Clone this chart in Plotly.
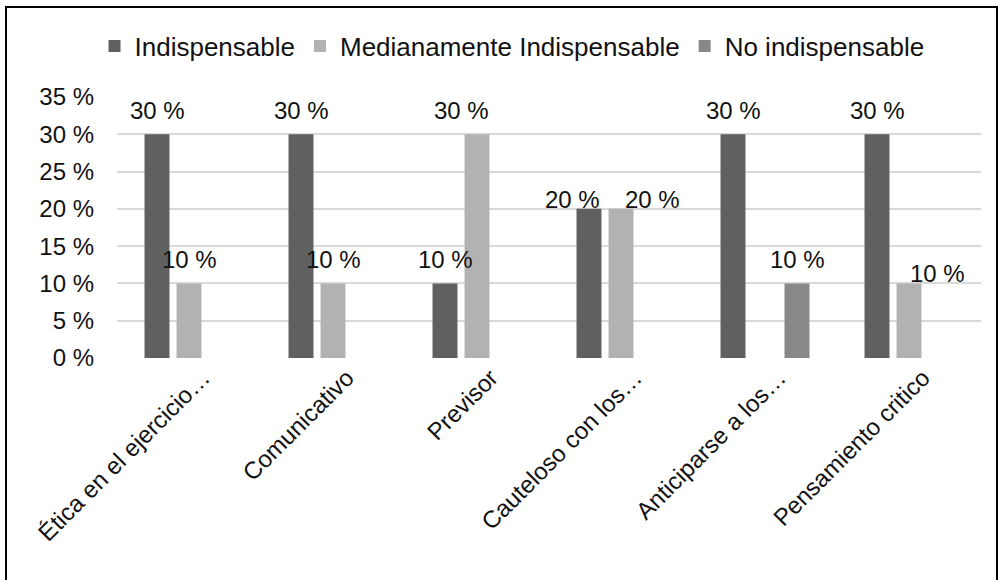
import plotly.graph_objects as go

# categories and series (percent)
categories = [
    "Ética en el ejercicio…",
    "Comunicativo",
    "Previsor",
    "Cauteloso con los…",
    "Anticiparse a los…",
    "Pensamiento critico",
]
series_names = ["Indispensable", "Medianamente Indispensable", "No indispensable"]
indispensable = [30, 30, 10, 20, 30, 30]
medianamente = [10, 10, 30, 20, None, 10]
no_indispensable = [None, None, None, None, 10, None]

y_ticks = [0, 5, 10, 15, 20, 25, 30, 35]

colors = ["#606060", "#b2b2b2", "#888888"]
FONT = "Arial, Liberation Sans, sans-serif"
TEXT = "#111111"

# layout geometry (pixels)
W, H = 998, 580
ML, MR, MT, MB = 117, 17, 97, 222
BARGAP = 1 / 3
BARGROUPGAP = 0.22

# excel moved a few labels by hand (pixels: dx, dy)
label_nudge = {
    ("Medianamente Indispensable", "Previsor"): (-16, 0),
    ("Indispensable", "Cauteloso con los…"): (-17, -15),
    ("Medianamente Indispensable", "Cauteloso con los…"): (31, -15),
    ("Medianamente Indispensable", "Pensamiento critico"): (28, -14),
}

all_values = [indispensable, medianamente, no_indispensable]

fig = go.Figure()
for name, vals, col in zip(series_names, all_values, colors):
    fig.add_trace(go.Bar(
        x=categories,
        y=vals,
        name=name,
        marker=dict(color=col, line=dict(width=0)),
        hoverinfo="skip",
    ))

# data labels above the bars
slot = (1 - BARGAP) / len(series_names)
annotations = []
for k, (name, vals) in enumerate(zip(series_names, all_values)):
    offset = (k - (len(series_names) - 1) / 2) * slot
    for i, (cat, v) in enumerate(zip(categories, vals)):
        if v is None:
            continue
        dx, dy = label_nudge.get((name, cat), (0, 0))
        annotations.append(dict(
            x=i + offset, y=v, xref="x", yref="y",
            text=f"{v:.0f} %", showarrow=False,
            xanchor="center", yanchor="middle",
            xshift=dx, yshift=24 + dy,
            font=dict(family=FONT, size=24, color=TEXT),
        ))

pw = W - ML - MR
ph = H - MT - MB


def px_x(px):
    return (px - ML) / pw


def px_y(py):
    return (H - MB - py) / ph


fig.update_layout(
    width=W, height=H,
    margin=dict(l=ML, r=MR, t=MT, b=MB),
    paper_bgcolor="white", plot_bgcolor="white",
    font=dict(family=FONT, size=24, color=TEXT),
    barmode="group",
    bargap=BARGAP,
    bargroupgap=BARGROUPGAP,
    annotations=annotations,
    showlegend=True,
    legend=dict(
        orientation="h",
        x=px_x(512), y=px_y(46),
        xanchor="center", yanchor="middle",
        font=dict(family=FONT, size=26, color=TEXT),
        itemwidth=30,
        bgcolor="rgba(0,0,0,0)",
    ),
    shapes=[dict(
        type="rect", xref="paper", yref="paper",
        x0=px_x(6), x1=px_x(997), y0=px_y(7), y1=px_y(583),
        line=dict(color="black", width=2), layer="above",
    )],
    xaxis=dict(
        type="category",
        tickangle=-45,
        showgrid=False, showline=False, zeroline=False,
        ticks="",
        ticklabelshift=14,
        tickfont=dict(family=FONT, size=24, color=TEXT),
    ),
    yaxis=dict(
        range=[0, 35],
        tickvals=y_ticks,
        ticktext=[f"{t} %" for t in y_ticks],
        showgrid=True, gridcolor="#d9d9d9", gridwidth=2,
        zeroline=False, showline=False,
        ticks="",
        ticklabelstandoff=22,
        tickfont=dict(family=FONT, size=24, color=TEXT),
    ),
)

fig.write_html(
    "out.html",
    config={"displayModeBar": False},
    post_script="document.body.style.margin='0';",
)
